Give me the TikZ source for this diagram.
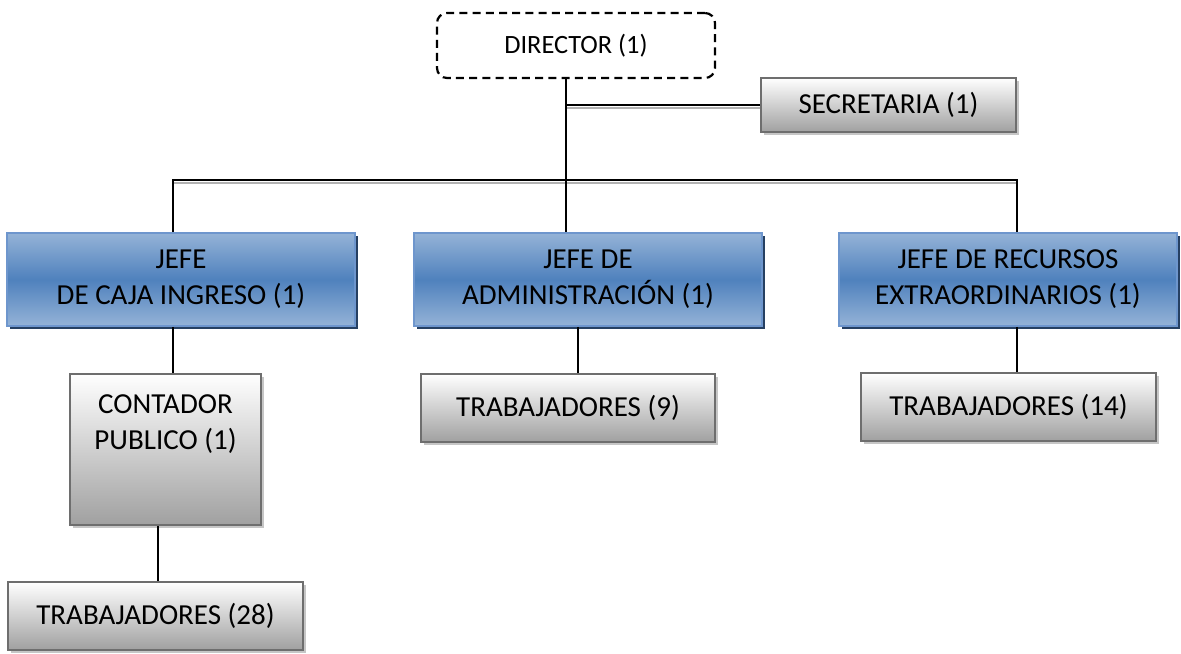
\documentclass[tikz,border=0pt]{standalone}
\usepackage{fontspec}
\setmainfont{Carlito}
\usetikzlibrary{shadows}
\definecolor{azulclaro}{RGB}{149,179,215}
\definecolor{azul}{RGB}{79,129,189}
\definecolor{azulborde}{RGB}{110,150,205}
\definecolor{azulsombra}{RGB}{38,64,98}
\definecolor{gris}{RGB}{160,160,160}
\definecolor{grisborde}{RGB}{110,110,110}
\begin{document}
\begin{tikzpicture}[x=0.5pt, y=-0.5pt,
	every node/.style={align=center, inner sep=0pt, font=\fontsize{14.5}{18}\selectfont},
	director/.style={draw, line width=1.1pt, dash pattern=on 4pt off 2.6pt, rounded corners=5pt, font=\fontsize{13.2}{16}\selectfont},
	jefe/.style={draw=azulborde, line width=0.8pt, top color=azulclaro, bottom color=azulclaro, middle color=azul, drop shadow={shadow xshift=1.6pt, shadow yshift=-1.6pt, fill=azulsombra, opacity=1}},
	puesto/.style={draw=grisborde, line width=1pt, top color=white, bottom color=gris, drop shadow={shadow xshift=1.6pt, shadow yshift=-1.6pt, fill=gray!45, opacity=1}},
	linea/.style={line width=0.9pt},
	sombra/.style={line width=1.1pt, gray!60}]
	\useasboundingbox (0,0) rectangle (1181,653);
	% puntos de las lineas
	\coordinate (tronco) at (566,180);
	\coordinate (bizq) at (173,180);
	\coordinate (bder) at (1017,180);
	\coordinate (cont) at (158,550);
	\coordinate (adm) at (578,350);
	\node[director, minimum width=139pt, minimum height=32.5pt] (dir) at (576,45.5) {DIRECTOR (1)};
	\node[puesto, minimum width=127.5pt, minimum height=27pt] (sec) at (888.5,105) {SECRETARIA (1)};
	\node[jefe, minimum width=174pt, minimum height=46.5pt] (caja) at (181,279.5) {JEFE\\DE CAJA INGRESO (1)};
	\node[jefe, minimum width=174pt, minimum height=46.5pt] (admin) at (588,279.5) {JEFE DE\\ADMINISTRACIÓN (1)};
	\node[jefe, minimum width=169pt, minimum height=46.5pt] (rec) at (1008,279.5) {JEFE DE RECURSOS\\EXTRAORDINARIOS (1)};
	\node[puesto, minimum width=95.5pt, minimum height=75.5pt, text depth=27pt] (contador) at (165.5,449.5) {CONTADOR\\PUBLICO (1)};
	\node[puesto, minimum width=147.5pt, minimum height=34pt] (trab28) at (155.5,616) {TRABAJADORES (28)};
	\node[puesto, minimum width=147pt, minimum height=34pt] (trab9) at (568,408) {TRABAJADORES (9)};
	\node[puesto, minimum width=147.5pt, minimum height=34pt] (trab14) at (1008.5,407) {TRABAJADORES (14)};
	% lineas (sombra y trazo)
	\draw[sombra] ([yshift=-1.6pt]tronco |- sec.west) -- ([yshift=-1.6pt]sec.west);
	\draw[sombra] ([yshift=-1.6pt]bizq) -- ([yshift=-1.6pt]bder);
	\draw[linea] (dir.south -| tronco) -- (admin.north -| tronco);
	\draw[linea] (tronco |- sec.west) -- (sec.west);
	\draw[linea] (caja.north -| bizq) -- (bizq) -- (bder) -- (rec.north -| bder);
	\draw[linea] (caja.south -| bizq) -- (contador.north -| bizq);
	\draw[linea] (contador.south -| cont) -- (trab28.north -| cont);
	\draw[linea] (admin.south -| adm) -- (trab9.north -| adm);
	\draw[linea] (rec.south -| bder) -- (trab14.north -| bder);
\end{tikzpicture}
\end{document}
